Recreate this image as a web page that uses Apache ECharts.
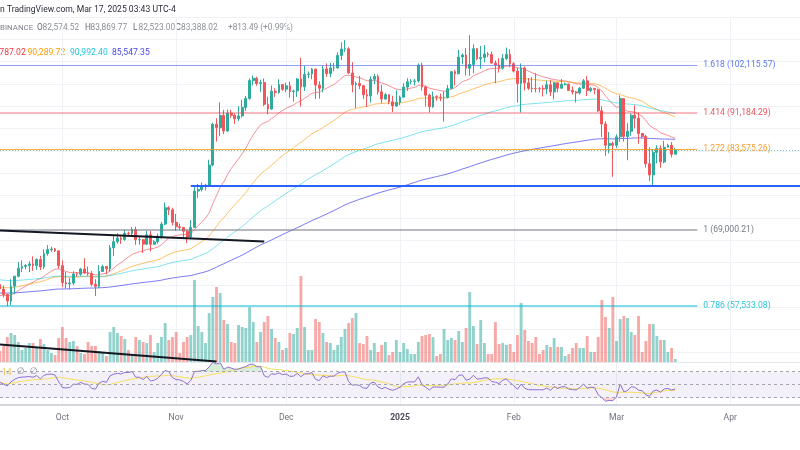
<!DOCTYPE html>
<html>
<head>
<meta charset="utf-8">
<script src="https://cdn.jsdelivr.net/npm/echarts@6/dist/echarts.min.js"></script>
<style>
  html, body { margin: 0; padding: 0; background: #fff; }
  #chart { width: 800px; height: 450px; }
</style>
</head>
<body>
<div id="chart"></div>
<script>
// BINANCE BTCUSDT daily candles, 2024-09-14 .. 2025-03-17
const firstDay = Date.UTC(2024, 8, 14);
const totalDays = 219;          // visible range incl. empty space on the right
const firstOpen = 60540;

const closes = [
  59900, 59130, 58210, 60310, 61760, 62950, 63190, 63350, 63580, 63340,
  64260, 63140, 65180, 65790, 65880, 65600, 63330, 60840, 60630, 60750,
  62090, 62050, 62820, 62220, 62130, 60580, 60270, 62450, 63190, 62850,
  66080, 67050, 67620, 67400, 68400, 68360, 69000, 67370, 67380, 66650,
  68160, 66640, 67020, 67930, 69920, 72700, 72340, 70220, 69480, 69360,
  68740, 67800, 69360, 75640, 75900, 76540, 76700, 80470, 88700, 87950,
  90580, 87250, 91070, 90580, 89850, 90460, 92300, 94300, 98400, 98950,
  97700, 97950, 93000, 91950, 95950, 95650, 97460, 96400, 97180, 95860,
  96000, 98770, 96950, 99860, 99970, 101130, 97350, 96600, 101170, 100040,
  101400, 101420, 104460, 106060, 106130, 100200, 97460, 97750, 97200, 95150,
  94880, 98700, 99340, 95800, 94160, 95160, 93550, 92640, 93430, 94590,
  96890, 98140, 98210, 98310, 102080, 96920, 95040, 92480, 94700, 94570,
  94490, 94520, 96530, 100500, 99990, 104080, 104560, 101330, 102260, 106150,
  103650, 103960, 104820, 104710, 102590, 102080, 101330, 103730, 104740, 102430,
  100640, 97700, 101400, 97870, 96620, 96550, 96530, 96500, 96450, 97430,
  95780, 97870, 96630, 97510, 97570, 96120, 95770, 95540, 96640, 98330,
  96120, 96580, 96270, 91550, 88740, 84350, 84700, 84350, 86060, 94270,
  86120, 87220, 90620, 89960, 86740, 86150, 80730, 78600, 82930, 83680,
  81070, 83960, 84340, 82574.52, 83388.02
];
const highs = [
  60650, 60400, 59210, 61320, 61790, 63870, 64130, 63550, 64000, 64740,
  64450, 64820, 65830, 66500, 66260, 66070, 65620, 64130, 62390, 61480,
  62480, 62370, 62980, 64470, 63180, 62540, 61320, 63410, 63480, 63290,
  66500, 67950, 68420, 67940, 68980, 68690, 69430, 69500, 67830, 67470,
  68830, 68770, 67300, 68340, 70270, 73620, 72960, 72700, 71630, 70000,
  69410, 69000, 70580, 76400, 76950, 77200, 76940, 81500, 89000, 89950,
  93430, 91780, 91830, 91780, 91000, 92600, 94000, 94850, 98900, 99600,
  99300, 98600, 98900, 94700, 97250, 96600, 98700, 97500, 97900, 98150,
  96300, 99000, 103900, 101900, 100550, 101400, 101200, 98250, 101900, 102500,
  102650, 102650, 105250, 107780, 108350, 106500, 102800, 98150, 99540, 97350,
  96400, 99400, 99960, 99880, 97400, 95500, 95200, 94900, 96150, 94930,
  97800, 98950, 98750, 98800, 102500, 102700, 97250, 95350, 95850, 95000,
  95400, 95900, 97350, 100700, 100900, 105900, 104990, 106300, 109600, 107250,
  106300, 106850, 107100, 105300, 105450, 103200, 103800, 104800, 106450, 106000,
  102800, 101500, 102500, 101750, 99000, 99200, 100150, 96900, 97300, 98350,
  98500, 98100, 97950, 98750, 97950, 97700, 97050, 96000, 96900, 98750,
  99500, 96900, 96650, 96500, 92550, 89300, 87050, 85100, 86550, 95000,
  94400, 88900, 91000, 92800, 91200, 86850, 86500, 83950, 83600, 84350,
  84300, 85250, 84650, 85000, 83869.77
];
const lows = [
  59550, 58700, 57490, 57620, 59170, 61580, 62360, 62770, 62360, 62550,
  62700, 62670, 62840, 64830, 65430, 65420, 62860, 60160, 59980, 59830,
  60460, 61680, 61820, 62120, 61830, 60300, 58900, 60050, 62440, 62030,
  62430, 64800, 66750, 66690, 67200, 68030, 68100, 66560, 66570, 65260,
  66500, 65520, 66570, 66720, 67540, 69730, 71440, 69680, 68780, 68980,
  67480, 66820, 67460, 69320, 74420, 75560, 75750, 76490, 80220, 85080,
  86200, 86620, 87100, 90050, 88760, 89400, 90100, 91550, 94000, 97250,
  97200, 95800, 92600, 90800, 91800, 94650, 95350, 96000, 95700, 94500,
  93600, 94650, 92500, 95980, 98950, 98700, 94150, 94250, 95700, 99300,
  99200, 100600, 101220, 103300, 105320, 100000, 95700, 92200, 96400, 94200,
  92400, 93400, 97600, 95150, 93250, 94000, 93000, 91300, 92400, 92800,
  94500, 96000, 97550, 97250, 97900, 96100, 92500, 91200, 92200, 93800,
  93700, 89250, 94300, 96500, 97300, 99950, 102300, 99600, 99500, 100100,
  103300, 101250, 102750, 104100, 102450, 97800, 100300, 101000, 103300, 101550,
  100300, 93400, 91200, 96150, 96200, 95700, 95650, 95700, 94750, 95250,
  94850, 94100, 95700, 96450, 97250, 96050, 95200, 93400, 95150, 96450,
  94850, 95750, 95250, 91350, 86050, 82250, 82750, 78250, 83850, 85050,
  85100, 81400, 86300, 87800, 84650, 85700, 80000, 77450, 76600, 80800,
  79950, 80800, 83950, 81950, 82523
];
// volume, thousand BTC
const volumes = [
  11, 16, 25, 29, 27, 20, 12, 14, 19, 19,
  14, 23, 18, 12, 9, 7, 24, 35, 24, 20,
  21, 16, 9, 8, 20, 16, 16, 11, 9, 6,
  30, 35, 29, 26, 23, 12, 8, 25, 22, 20,
  19, 27, 10, 19, 25, 39, 22, 25, 30, 9,
  20, 25, 27, 82, 36, 30, 19, 49, 65, 75,
  69, 42, 38, 20, 19, 37, 35, 34, 55, 40,
  20, 30, 40, 46, 33, 24, 20, 12, 14, 29,
  28, 34, 86, 35, 12, 12, 43, 40, 29, 20,
  19, 12, 17, 25, 33, 39, 44, 49, 19, 18,
  26, 12, 19, 10, 17, 20, 7, 10, 22, 10,
  19, 13, 8, 8, 20, 26, 27, 28, 25, 6,
  8, 33, 22, 24, 22, 31, 20, 34, 70, 36,
  18, 42, 19, 8, 8, 40, 18, 19, 17, 18,
  10, 27, 59, 32, 21, 19, 25, 8, 12, 17,
  15, 24, 15, 15, 6, 8, 14, 19, 14, 14,
  26, 10, 10, 25, 62, 45, 34, 65, 21, 43,
  46, 44, 30, 27, 46, 10, 21, 38, 38, 26,
  22, 22, 10, 14, 3
];

// moving averages (EMA) and their values just before the first visible day
const emaPeriods = [20, 50, 100, 200];
const emaSeeds = [58900, 60200, 61250, 59330];
const emaLegend = ['85,787.02', '90,289.72', '90,992.40', '85,547.35'];

// RSI 14 with its 14-day average
const rsiPeriod = 14;
const rsiSeedGain = 700;
const rsiSeedLoss = 560;
const rsiLevels = [70, 50, 30];

// Fibonacci extension levels
const fibRatios = ['1.618', '1.414', '1.272', '1', '0.786'];
const fibPrices = [102115.57, 91184.29, 83575.26, 69000.21, 57533.08];
const fibEndDay = '2025-03-23';

// drawn lines: [start date, price, end date, price]
const supportLine = ['2024-11-05', 76606, '2025-04-20', 76606];
const trendLines = [
  ['2024-09-14', 68860, '2024-11-25', 67075],
  ['2024-09-14', 52500, '2024-11-12', 50400]
];
const lastPrice = 83388.02;

const monthNames = ['Jan', 'Feb', 'Mar', 'Apr', 'May', 'Jun', 'Jul', 'Aug', 'Sep', 'Oct', 'Nov', 'Dec'];
const headerText = 'n TradingView.com, Mar 17, 2025 03:43 UTC-4';
const ohlcKeys = ['O', 'H', 'L', 'C'];
const ohlcValues = ['82,574.52', '83,869.77', '82,523.00', '83,388.02'];
const changeText = '+813.49 (+0.99%)';

// ---------------------------------------------------------------------------

const dates = [];
for (let i = 0; i < totalDays; i++) {
  dates.push(new Date(firstDay + i * 86400000).toISOString().slice(0, 10));
}
const isMonthStart = (i) => dates[i] && dates[i].slice(8) === '01';

const opens = closes.map((c, i) => i === 0 ? firstOpen : closes[i - 1]);
const candles = closes.map((c, i) => [opens[i], c, lows[i], highs[i]]);

function ema(period, seed) {
  const k = 2 / (period + 1);
  let e = seed;
  return closes.map(c => (e = e + k * (c - e)));
}
const emaLines = emaPeriods.map((p, i) => ema(p, emaSeeds[i]));

let avgGain = rsiSeedGain, avgLoss = rsiSeedLoss;
const rsi = closes.map((c, i) => {
  const ch = c - opens[i];
  avgGain = (avgGain * (rsiPeriod - 1) + Math.max(ch, 0)) / rsiPeriod;
  avgLoss = (avgLoss * (rsiPeriod - 1) + Math.max(-ch, 0)) / rsiPeriod;
  return 100 - 100 / (1 + avgGain / avgLoss);
});
const rsiMa = rsi.map((v, i) => {
  const w = rsi.slice(Math.max(0, i - rsiPeriod + 1), i + 1);
  return w.reduce((a, b) => a + b, 0) / w.length;
});

const UP = '#2fab9d', DOWN = '#f0575a';
const font = 'Roboto, "Liberation Sans", sans-serif';
const emaColors = ['rgba(242,54,69,0.55)', 'rgba(255,152,0,0.6)', 'rgba(0,200,225,0.5)', 'rgba(50,50,235,0.65)'];
const emaTextColors = ['#f23645', '#ff9800', '#22c6dc', '#4747ee'];
const fibLineColors = ['rgba(70,100,240,0.6)', 'rgba(242,54,69,0.35)', 'rgba(255,152,0,0.8)', 'rgba(120,123,134,0.7)', 'rgba(0,188,212,0.5)'];
const fibLineWidths = [1, 2, 1, 1.5, 2];
const fibTextColors = ['#5b78f0', '#f0545c', '#f7a035', '#787b86', '#2cc3d8'];

// price pane is logarithmic: 1.618 sits at y=65 and ln-units are 420 px tall
const priceTop = 17, priceBottom = 362, pxPerLn = 420;
const priceMax = fibPrices[0] * Math.exp((65 - priceTop) / pxPerLn);
const priceMin = fibPrices[0] * Math.exp(-(priceBottom - 65) / pxPerLn);

const fibMarks = fibPrices.map((p, i) => [
  {
    coord: [dates[0], p],
    lineStyle: { color: fibLineColors[i], width: fibLineWidths[i], type: 'solid' },
    label: {
      show: true, position: 'end', distance: 6,
      formatter: fibRatios[i] + ' (' + p.toLocaleString('en-US', { minimumFractionDigits: 2 }) + ')',
      color: fibTextColors[i], fontSize: 8.6, fontFamily: font
    }
  },
  { coord: [fibEndDay, p] }
]);
const drawMarks = [
  [{ coord: [supportLine[0], supportLine[1]], lineStyle: { color: '#2962ff', width: 2, type: 'solid' } },
   { coord: [supportLine[2], supportLine[3]] }],
  ...trendLines.map(t => [
    { coord: [t[0], t[1]], lineStyle: { color: '#131722', width: 2, type: 'solid' } },
    { coord: [t[2], t[3]] }
  ]),
  { yAxis: lastPrice, lineStyle: { color: 'rgba(38,166,154,0.6)', width: 1, type: [1, 2] } }
];

const txt = (x, y, text, size, fill, extra) => ({
  type: 'text', x: x, y: y,
  style: Object.assign({ text: text, font: size + 'px ' + font, fill: fill }, extra || {})
});
const graphic = [
  txt(0, 5, headerText, 8.6, '#2a2e39'),
  txt(0, 24, 'BINANCE', 7.9, '#80838c')
];
const keyX = [37, 85, 133, 175.5];
ohlcKeys.forEach((k, i) => {
  graphic.push(txt(keyX[i], 24, k, 8.3, '#666973'));
  graphic.push(txt(keyX[i] + 5.6, 24, ohlcValues[i], 8.3, '#8d9099'));
});
graphic.push(txt(228, 24, changeText, 8.3, '#8d9099'));
const emaX = [-12, 27.5, 70, 112];
emaLegend.forEach((t, i) => graphic.push(txt(emaX[i], 48, t, 8.6, emaTextColors[i])));
graphic.push(txt(2, 368, '14', 8.6, '#f2c744'));
graphic.push({ type: 'text', x: 17, y: 367, style: { text: '\u2205', font: '9px "DejaVu Sans"', fill: '#8d9099' } });
graphic.push({ type: 'text', x: 30, y: 367, style: { text: '\u2205', font: '9px "DejaVu Sans"', fill: '#8d9099' } });

const splitX = { show: true, interval: (i) => isMonthStart(i), lineStyle: { color: '#eef1f6', width: 1 } };

const option = {
  animation: false,
  backgroundColor: '#ffffff',
  graphic: graphic,
  grid: [
    { left: 0, right: 0, top: priceTop, bottom: 450 - priceBottom },
    { left: 0, right: 0, top: 363, bottom: 45 },
    { left: 0, right: 0, top: priceTop, bottom: 98 }
  ],
  xAxis: [
    { type: 'category', gridIndex: 0, data: dates, boundaryGap: false,
      axisLine: { show: true, lineStyle: { color: '#e6e8ee' } }, axisTick: { show: false }, axisLabel: { show: false },
      splitLine: splitX },
    { type: 'category', gridIndex: 1, data: dates, boundaryGap: false,
      axisLine: { show: true, lineStyle: { color: '#d4d6db', width: 2 } }, axisTick: { show: false },
      axisLabel: {
        interval: (i) => isMonthStart(i), margin: 8, color: '#6f727c', fontSize: 8.6, fontFamily: font,
        formatter: (v) => {
          const m = +v.slice(5, 7);
          return m === 1 ? '{y|' + v.slice(0, 4) + '}' : monthNames[m - 1];
        },
        rich: { y: { fontWeight: 'bold', color: '#4a4d57', fontSize: 8.6, fontFamily: font } }
      },
      splitLine: splitX },
    { type: 'value', gridIndex: 2, show: false, min: 0, max: 1 }
  ],
  yAxis: [
    { type: 'log', gridIndex: 0, min: priceMin, max: priceMax, show: false, splitLine: { show: false } },
    { type: 'value', gridIndex: 0, min: 0, max: priceBottom - priceTop, show: false, splitLine: { show: false } },
    { type: 'value', gridIndex: 1, min: 18.8, max: 83.4, show: false, splitLine: { show: false } },
    { type: 'value', gridIndex: 2, min: 0, max: 15, interval: 1,
      axisLine: { show: false }, axisTick: { show: false }, axisLabel: { show: false },
      splitLine: { show: true, lineStyle: { color: '#f0f2f6', width: 1 } } }
  ],
  series: [
    {
      name: 'Volume', type: 'bar', xAxisIndex: 0, yAxisIndex: 1, barWidth: '78%',
      data: volumes.map((v, i) => ({
        value: v,
        itemStyle: { color: closes[i] >= opens[i] ? 'rgba(38,166,154,0.5)' : 'rgba(239,83,80,0.5)' }
      }))
    },
    ...emaLines.map((l, i) => ({
      name: 'EMA' + emaPeriods[i], type: 'line', xAxisIndex: 0, yAxisIndex: 0,
      data: l, showSymbol: false, symbol: 'none', smooth: false,
      lineStyle: { color: emaColors[i], width: 1 }, z: 3
    })),
    {
      name: 'BTCUSDT', type: 'candlestick', xAxisIndex: 0, yAxisIndex: 0, barWidth: '62%',
      data: candles, z: 4,
      itemStyle: { color: UP, color0: DOWN, borderColor: UP, borderColor0: DOWN, borderWidth: 1 },
      markLine: {
        silent: true, symbol: 'none', animation: false,
        label: { show: false },
        data: [...fibMarks, ...drawMarks]
      }
    },
    {
      name: 'RSI', type: 'line', xAxisIndex: 1, yAxisIndex: 2, data: rsi, showSymbol: false, symbol: 'none',
      lineStyle: { color: '#8e6fd0', width: 1 }, z: 4,
      markArea: { silent: true, itemStyle: { color: 'rgba(126,87,194,0.09)' }, data: [[{ yAxis: rsiLevels[2] }, { yAxis: rsiLevels[0] }]] },
      markLine: {
        silent: true, symbol: 'none', label: { show: false },
        lineStyle: { color: '#a3a6af', type: [3, 3], width: 1 },
        data: rsiLevels.map(v => ({ yAxis: v }))
      }
    },
    {
      name: 'RSI MA', type: 'line', xAxisIndex: 1, yAxisIndex: 2, data: rsiMa, showSymbol: false, symbol: 'none',
      lineStyle: { color: '#f5df5a', width: 1 }, z: 3
    },
    { type: 'line', xAxisIndex: 1, yAxisIndex: 2, stack: 'ob', data: rsi.map(() => rsiLevels[0]),
      showSymbol: false, symbol: 'none', lineStyle: { opacity: 0 }, silent: true },
    { type: 'line', xAxisIndex: 1, yAxisIndex: 2, stack: 'ob', data: rsi.map(v => Math.max(v - rsiLevels[0], 0)),
      showSymbol: false, symbol: 'none', lineStyle: { opacity: 0 }, areaStyle: { color: 'rgba(76,175,80,0.3)' }, silent: true },
    { type: 'line', xAxisIndex: 1, yAxisIndex: 2, stack: 'os', data: rsi.map(v => Math.min(v, rsiLevels[2])),
      showSymbol: false, symbol: 'none', lineStyle: { opacity: 0 }, silent: true },
    { type: 'line', xAxisIndex: 1, yAxisIndex: 2, stack: 'os', data: rsi.map(v => rsiLevels[2] - Math.min(v, rsiLevels[2])),
      showSymbol: false, symbol: 'none', lineStyle: { opacity: 0 }, areaStyle: { color: 'rgba(242,54,69,0.3)' }, silent: true },
    { type: 'line', xAxisIndex: 2, yAxisIndex: 3, data: [], silent: true }
  ]
};

const chart = echarts.init(document.getElementById('chart'), null, { renderer: 'canvas' });
chart.setOption(option);
</script>
</body>
</html>
